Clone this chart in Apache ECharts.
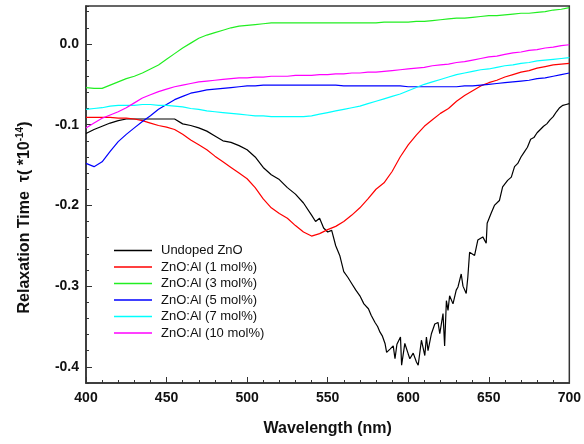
<!DOCTYPE html>
<html>
<head>
<meta charset="utf-8">
<script src="https://cdn.jsdelivr.net/npm/echarts@6/dist/echarts.min.js"></script>
<style>html,body{margin:0;padding:0;background:#fff;}#c{width:584px;height:444px;}</style>
</head>
<body>
<div id="c"></div>
<script>
// ---- data ----
const seriesNames = ['Undoped ZnO', 'ZnO:Al (1 mol%)', 'ZnO:Al (3 mol%)', 'ZnO:Al (5 mol%)', 'ZnO:Al (7 mol%)', 'ZnO:Al (10 mol%)'];
const seriesColors = ['#000000', '#ff0000', '#22ee22', '#0000ff', '#00ffff', '#ff00ff'];
const xTicks = [400, 450, 500, 550, 600, 650, 700];
const yTicks = [-0.4, -0.3, -0.2, -0.1, 0.0];

// wavelengths (nm), 5 nm step, shared by the doped series
const wavelength = [400,405,410,415,420,425,430,435,440,445,450,455,460,465,470,475,480,485,490,495,500,505,510,515,520,525,530,535,540,545,550,555,560,565,570,575,580,585,590,595,600,605,610,615,620,625,630,635,640,645,650,655,660,665,670,675,680,685,690,695,700];

const al1 = [-0.091,-0.091,-0.091,-0.091,-0.092,-0.092,-0.093,-0.095,-0.098,-0.101,-0.103,-0.106,-0.112,-0.119,-0.125,-0.131,-0.139,-0.146,-0.153,-0.160,-0.167,-0.178,-0.192,-0.203,-0.210,-0.216,-0.225,-0.233,-0.238,-0.235,-0.230,-0.226,-0.220,-0.212,-0.203,-0.192,-0.180,-0.172,-0.158,-0.140,-0.125,-0.113,-0.102,-0.094,-0.086,-0.080,-0.071,-0.064,-0.058,-0.052,-0.048,-0.045,-0.041,-0.038,-0.035,-0.033,-0.030,-0.028,-0.026,-0.025,-0.024];
const al3 = [-0.054,-0.055,-0.055,-0.051,-0.047,-0.043,-0.040,-0.036,-0.031,-0.026,-0.019,-0.012,-0.005,0.001,0.007,0.011,0.014,0.017,0.020,0.022,0.023,0.024,0.025,0.026,0.026,0.026,0.026,0.026,0.026,0.026,0.026,0.026,0.026,0.026,0.026,0.026,0.026,0.027,0.027,0.027,0.027,0.028,0.028,0.029,0.030,0.031,0.032,0.032,0.033,0.034,0.035,0.035,0.036,0.037,0.038,0.038,0.039,0.040,0.042,0.043,0.045];
const al5 = [-0.148,-0.152,-0.146,-0.133,-0.121,-0.112,-0.104,-0.096,-0.089,-0.081,-0.075,-0.069,-0.065,-0.061,-0.059,-0.057,-0.056,-0.055,-0.054,-0.053,-0.052,-0.052,-0.051,-0.051,-0.051,-0.051,-0.051,-0.051,-0.051,-0.051,-0.051,-0.051,-0.052,-0.052,-0.052,-0.052,-0.052,-0.052,-0.052,-0.052,-0.053,-0.053,-0.053,-0.053,-0.053,-0.053,-0.053,-0.052,-0.052,-0.051,-0.050,-0.049,-0.048,-0.047,-0.046,-0.045,-0.043,-0.042,-0.040,-0.038,-0.036];
const al7 = [-0.081,-0.080,-0.079,-0.077,-0.076,-0.076,-0.076,-0.075,-0.075,-0.076,-0.076,-0.077,-0.078,-0.080,-0.081,-0.083,-0.084,-0.085,-0.086,-0.087,-0.088,-0.089,-0.089,-0.090,-0.090,-0.090,-0.090,-0.090,-0.089,-0.087,-0.085,-0.083,-0.081,-0.079,-0.077,-0.074,-0.071,-0.068,-0.065,-0.062,-0.058,-0.054,-0.050,-0.047,-0.044,-0.041,-0.038,-0.036,-0.034,-0.032,-0.031,-0.029,-0.027,-0.026,-0.024,-0.023,-0.021,-0.020,-0.019,-0.018,-0.017];
const al10 = [-0.104,-0.098,-0.092,-0.088,-0.084,-0.079,-0.073,-0.067,-0.063,-0.059,-0.056,-0.053,-0.051,-0.049,-0.047,-0.046,-0.045,-0.044,-0.043,-0.042,-0.042,-0.041,-0.041,-0.040,-0.040,-0.040,-0.039,-0.039,-0.039,-0.038,-0.038,-0.037,-0.037,-0.036,-0.036,-0.035,-0.035,-0.034,-0.033,-0.032,-0.031,-0.030,-0.029,-0.027,-0.026,-0.025,-0.023,-0.022,-0.020,-0.018,-0.016,-0.015,-0.013,-0.011,-0.010,-0.008,-0.007,-0.005,-0.004,-0.002,-0.001];

// undoped ZnO: finer sampling where the trace is noisy
const undopedWl = [400,405,410,415,420,425,430,435,440,445,450,455,460,465,470,475,480,485,490,495,500,505,510,515,520,525,530,535,540,542.5,545,547.5,550,552.5,555,557.5,560,562.5,565,567.5,570,572.5,575.3,577,579.4,581,582.5,584,585.6,586.6,588.7,590.7,591.8,593,593.8,595.2,595.9,597.9,600,601,603.1,605.1,606.2,608.2,610.3,611.3,612.3,614.4,616.5,618.5,619.6,621.6,622.6,623.7,624.7,625.7,627.8,629.8,630.9,632.9,634,636,637,638.1,641.2,643.2,646.3,648.4,649,651.4,653.5,656.6,658.6,661.7,664,666,668,670,672,674,676,678,680,682,684,686,688,690,692,694,696,698,700];
const undoped = [-0.111,-0.106,-0.102,-0.098,-0.095,-0.093,-0.093,-0.093,-0.093,-0.093,-0.093,-0.093,-0.099,-0.101,-0.104,-0.108,-0.114,-0.120,-0.122,-0.126,-0.131,-0.140,-0.153,-0.162,-0.168,-0.178,-0.186,-0.197,-0.212,-0.220,-0.216,-0.228,-0.233,-0.231,-0.250,-0.262,-0.282,-0.289,-0.297,-0.305,-0.312,-0.322,-0.328,-0.336,-0.345,-0.350,-0.357,-0.362,-0.371,-0.382,-0.378,-0.374,-0.390,-0.372,-0.371,-0.363,-0.398,-0.371,-0.384,-0.390,-0.383,-0.394,-0.398,-0.367,-0.386,-0.363,-0.380,-0.359,-0.347,-0.345,-0.359,-0.334,-0.374,-0.318,-0.330,-0.312,-0.322,-0.305,-0.301,-0.285,-0.300,-0.309,-0.289,-0.258,-0.262,-0.243,-0.239,-0.247,-0.222,-0.210,-0.200,-0.194,-0.177,-0.169,-0.165,-0.152,-0.148,-0.140,-0.134,-0.128,-0.118,-0.116,-0.110,-0.106,-0.102,-0.099,-0.094,-0.090,-0.084,-0.079,-0.076,-0.075,-0.074];

const pairs = (xs, ys) => xs.map((x, i) => [x, ys[i]]);
const allData = [pairs(undopedWl, undoped), pairs(wavelength, al1), pairs(wavelength, al3), pairs(wavelength, al5), pairs(wavelength, al7), pairs(wavelength, al10)];

// ---- layout ----
const Y_MIN = -0.42, Y_MAX = 0.047;
const G_TOP = 6, G_BOTTOM_PX = 383, G_LEFT = 86, G_RIGHT_PX = 572;
const gH = G_BOTTOM_PX - G_TOP;
const pxOf = v => G_TOP + (Y_MAX - v) / (Y_MAX - Y_MIN) * gH;
const majTop = pxOf(yTicks[yTicks.length - 1]);
const majBot = pxOf(yTicks[0]);

const FONT = 'Liberation Sans, Arial, sans-serif';
const chart = echarts.init(document.getElementById('c'), null, {renderer: 'canvas'});
chart.setOption({
  animation: false,
  backgroundColor: '#fff',
  grid: [
    {left: G_LEFT, top: G_TOP, width: G_RIGHT_PX - G_LEFT, height: gH, show: true, borderColor: '#333', borderWidth: 1.5, containLabel: false},
    {left: G_LEFT, top: majTop, width: G_RIGHT_PX - G_LEFT, height: majBot - majTop, containLabel: false}
  ],
  legend: {
    orient: 'vertical', left: 109, top: 239, itemWidth: 38, itemHeight: 14, itemGap: 3.5,
    icon: 'path://M0,0H40V1.4H0Z',
    data: seriesNames,
    textStyle: {fontFamily: FONT, fontSize: 13, color: '#111', padding: [0, 0, 0, 4]}
  },
  xAxis: [
    {gridIndex: 0, type: 'value', min: xTicks[0], max: xTicks[xTicks.length - 1], interval: 50,
     name: 'Wavelength (nm)', nameLocation: 'middle', nameGap: 38,
     nameTextStyle: {fontFamily: FONT, fontSize: 16, fontWeight: 'bold', color: '#111'},
     axisLine: {show: true, onZero: false, lineStyle: {color: '#333', width: 1.5}},
     axisTick: {show: true, inside: true, length: 6, lineStyle: {color: '#333'}},
     minorTick: {show: true, splitNumber: 5, length: 3, lineStyle: {color: '#333'}},
     splitLine: {show: false},
     axisLabel: {fontFamily: FONT, fontSize: 14, fontWeight: 'bold', color: '#111', margin: 8}},
    {gridIndex: 1, type: 'value', min: xTicks[0], max: xTicks[xTicks.length - 1], show: false,
     axisLine: {show: false, onZero: false}}
  ],
  yAxis: [
    {gridIndex: 0, type: 'value', min: Y_MIN, max: Y_MAX, interval: 0.02,
     axisLine: {show: true, onZero: false, lineStyle: {color: '#333', width: 1.5}},
     axisTick: {show: true, inside: true, length: 3, lineStyle: {color: '#333'}},
     axisLabel: {show: false},
     splitLine: {show: false},
     name: '{a|Relaxation Time  τ( *10}{s|-14}{a|)}', nameLocation: 'middle', nameGap: 52,
     nameTextStyle: {padding: [0, 46, 0, 0], rich: {
       a: {fontFamily: FONT, fontSize: 16, fontWeight: 'bold', color: '#111'},
       s: {fontFamily: FONT, fontSize: 10, fontWeight: 'bold', color: '#111', verticalAlign: 'top', padding: [0, 0, 9, 0]}
     }}},
    {gridIndex: 1, type: 'value', min: yTicks[0], max: yTicks[yTicks.length - 1], interval: 0.1,
     axisLine: {show: false, onZero: false},
     axisTick: {show: true, inside: true, length: 6, lineStyle: {color: '#333'}},
     splitLine: {show: false},
     axisLabel: {fontFamily: FONT, fontSize: 14, fontWeight: 'bold', color: '#111', margin: 7,
       formatter: v => Number(v).toFixed(1)}}
  ],
  series: seriesNames.map((n, i) => ({
    name: n, type: 'line', xAxisIndex: 0, yAxisIndex: 0,
    data: allData[i], symbol: 'none', showSymbol: false, smooth: false,
    color: seriesColors[i],
    lineStyle: {color: seriesColors[i], width: 1.2}
  }))
});
</script>
</body>
</html>
